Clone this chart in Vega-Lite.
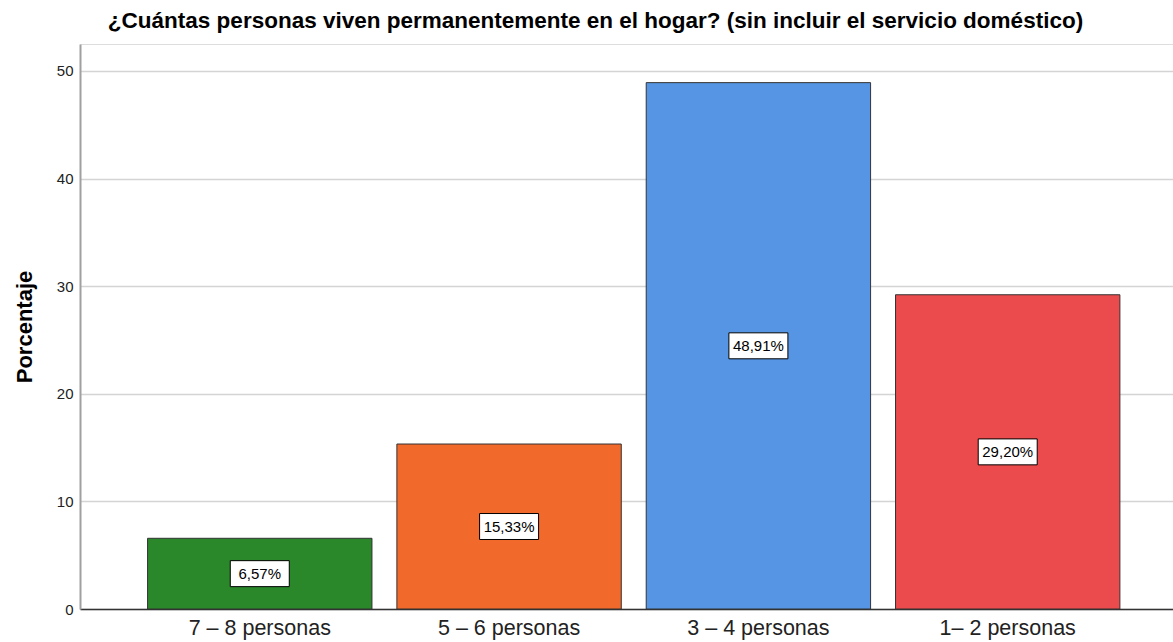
{
  "$schema": "https://vega.github.io/schema/vega-lite/v6.json",
  "width": 1093,
  "height": 565,
  "autosize": {"type": "none"},
  "padding": {"left": 80, "top": 44, "right": 0, "bottom": 33},
  "background": "white",
  "title": {
    "text": "¿Cuántas personas viven permanentemente en el hogar? (sin incluir el servicio doméstico)",
    "font": "Liberation Sans",
    "fontSize": 22.5,
    "fontWeight": "bold",
    "color": "#000000",
    "anchor": "middle",
    "dx": -31,
    "offset": 12
  },
  "data": {
    "values": [
      {"cat": "7 – 8 personas", "pct": 6.57},
      {"cat": "5 – 6 personas", "pct": 15.33},
      {"cat": "3 – 4 personas", "pct": 48.91},
      {"cat": "1– 2 personas", "pct": 29.20}
    ]
  },
  "transform": [
    {"calculate": "datum.pct / 2", "as": "mid"},
    {"calculate": "replace(format(datum.pct, '.2f'), '.', ',') + '%'", "as": "lbl"}
  ],
  "encoding": {
    "x": {
      "field": "cat",
      "type": "nominal",
      "sort": null,
      "scale": {"paddingInner": 0.1, "paddingOuter": 0.242, "align": 0.56},
      "axis": {
        "title": null,
        "labelAngle": 0,
        "labelFont": "Liberation Sans",
        "labelFontSize": 21.5,
        "labelColor": "#222222",
        "labelPadding": 8,
        "ticks": false,
        "domainColor": "#333333",
        "domainWidth": 1.5,
        "grid": false
      }
    }
  },
  "layer": [
    {
      "mark": {"type": "bar", "stroke": "#333333", "strokeWidth": 1},
      "encoding": {
        "y": {
          "field": "pct",
          "type": "quantitative",
          "scale": {"domain": [0, 52.5], "nice": false},
          "axis": {
            "title": "Porcentaje",
            "titleFont": "Liberation Sans",
            "titleFontSize": 22,
            "titleFontWeight": "bold",
            "titleColor": "#000000",
            "titlePadding": 20,
            "values": [0, 10, 20, 30, 40, 50],
            "labelFont": "Liberation Sans",
            "labelFontSize": 15,
            "labelColor": "#222222",
            "labelPadding": 7,
            "ticks": false,
            "domainColor": "#a0a0a0",
            "domainWidth": 2,
            "grid": true,
            "gridColor": "#d4d4d4",
            "gridWidth": 1.5
          }
        },
        "color": {
          "field": "cat",
          "type": "nominal",
          "sort": null,
          "scale": {
            "domain": ["7 – 8 personas", "5 – 6 personas", "3 – 4 personas", "1– 2 personas"],
            "range": ["#2a872a", "#f2692c", "#5595e3", "#eb4b4c"]
          },
          "legend": null
        }
      }
    },
    {
      "mark": {
        "type": "point",
        "shape": "M-1,-0.44H1V0.44H-1Z",
        "filled": true,
        "fill": "#ffffff",
        "stroke": "#000000",
        "strokeWidth": 1,
        "opacity": 1,
        "size": 3481
      },
      "encoding": {
        "y": {"field": "mid", "type": "quantitative"}
      }
    },
    {
      "mark": {
        "type": "text",
        "font": "Liberation Sans",
        "fontSize": 15,
        "color": "#000000",
        "baseline": "middle",
        "align": "center"
      },
      "encoding": {
        "y": {"field": "mid", "type": "quantitative"},
        "text": {"field": "lbl"}
      }
    }
  ]
}
